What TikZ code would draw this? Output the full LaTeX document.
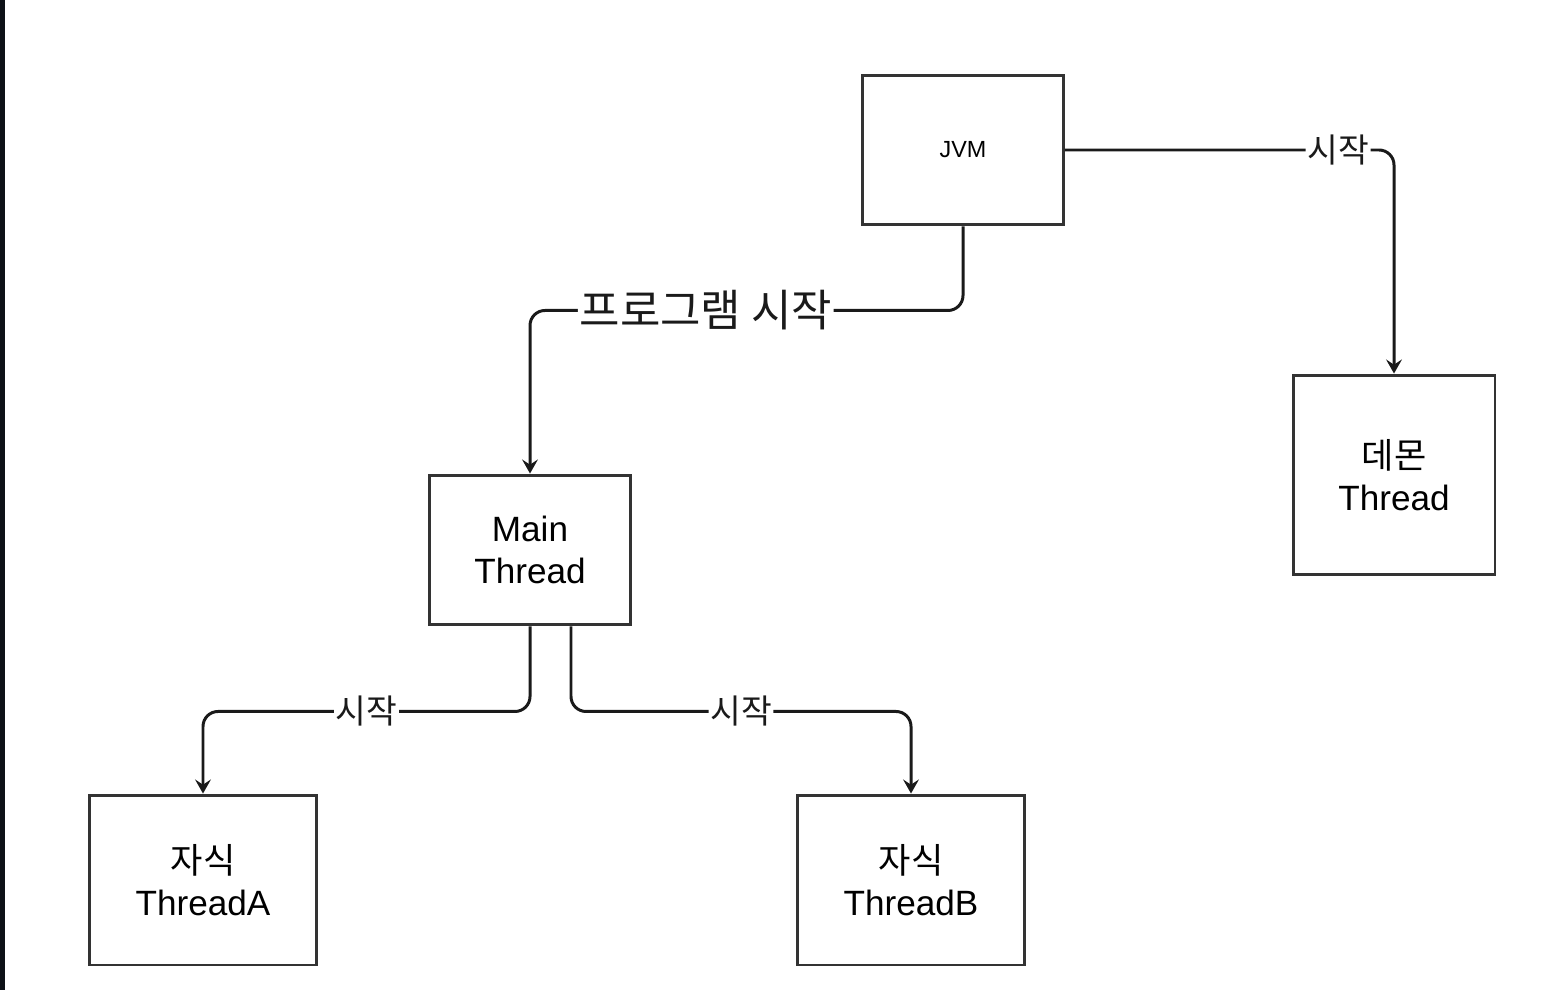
\documentclass[tikz,border=0pt]{standalone}
\usepackage{fontspec}
\setmainfont{Liberation Sans}
\newfontfamily\kr{Noto Sans CJK KR}
\usetikzlibrary{arrows.meta, positioning}
\definecolor{edge}{HTML}{333333}
\definecolor{wire}{HTML}{1A1A1A}
\definecolor{strip}{HTML}{0D1117}

\begin{document}
\begin{tikzpicture}[x=0.02cm, y=-0.02cm,
    box/.style={draw=edge, line width=1.7pt, fill=white, align=center, font=\fontsize{20}{24}\selectfont},
    conn/.style={wire, line width=1.7pt, rounded corners=0.3cm, -{Stealth[length=8pt, width=9pt, inset=3pt]}},
    lbl/.style={fill=white, inner sep=1pt, font=\kr\fontsize{19}{22}\selectfont}]
    \useasboundingbox (0,0) rectangle (1561,990);
    \fill[strip] (0,0) rectangle (5,990);

    \node[box, minimum width=4.02cm, minimum height=3cm, font=\fontsize{13.3}{16}\selectfont] (jvm) at (963,150) {JVM};
    \node[box, minimum width=4.02cm, minimum height=3cm] (main) at (530,550) {Main\\Thread};
    \node[box, minimum width=4.04cm, minimum height=4cm] (daemon) at (1394,475) {{\kr 데몬}\\Thread};
    \node[box, minimum width=4.56cm, minimum height=3.4cm] (childA) at (203,880) {{\kr 자식}\\ThreadA};
    \node[box, minimum width=4.56cm, minimum height=3.4cm] (childB) at (911,880) {{\kr 자식}\\ThreadB};

    \draw[conn] (jvm.south) -- ++(0,84) -- node[lbl, pos=0.594, font=\kr\fontsize{25}{29}\selectfont] (startMain) {프로그램 시작} ++(-433,0) -- (main.north);
    \draw[conn] (jvm.east) -| node[lbl, pos=0.415] (startDaemon) {시작} (daemon.north);
    \draw[conn] (main.south) -- ++(0,85) -- node[lbl, pos=0.5] (startA) {시작} ++(-327,0) -- (childA.north);
    \draw[conn] ([xshift=0.82cm]main.south) -- ++(0,85) -- node[lbl, pos=0.5] (startB) {시작} ++(340,0) -- (childB.north);
\end{tikzpicture}
\end{document}
